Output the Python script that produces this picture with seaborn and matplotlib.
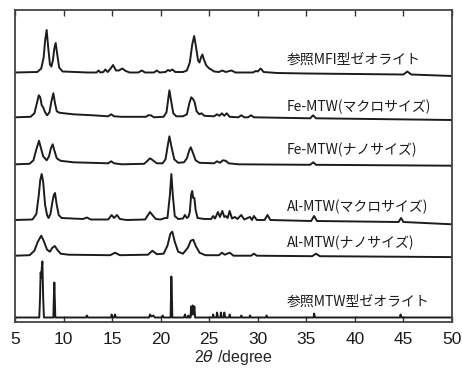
import numpy as np
import pandas as pd
import seaborn as sns
import matplotlib
matplotlib.use("Agg")
import matplotlib.pyplot as plt

# XRD patterns, vertices (2theta, height above own baseline)
mfi_x = [5, 7.3, 7.7, 7.95, 8.1, 8.26, 8.42, 8.6, 8.75, 8.9, 9.05, 9.19, 9.35, 9.55, 9.9, 12.5, 13.4, 13.6, 13.8,
         14.1, 14.3, 14.55, 14.85, 15.1, 15.4, 15.7, 16.05, 16.4, 16.8, 17.7, 18.05, 18.4, 19.3, 19.6, 19.9, 20.5,
         20.75, 20.95, 21.2, 21.5, 22.3, 22.7, 23.0, 23.25, 23.45, 23.65, 23.85, 24.0, 24.15, 24.3, 24.45, 24.7,
         25.0, 25.2, 25.5, 26.0, 26.35, 26.7, 27.3, 27.7, 29.5, 29.8, 30.0, 30.3, 30.6, 32, 35, 40, 45.0, 45.4,
         45.8, 50]
mfi_y = [0, 0.5, 4, 15, 32, 42.5, 25, 8, 6, 12, 24, 29.5, 18, 5, 1, 0, 0, 2, 0,
         0.5, 3, 0.5, 4, 7.5, 2, 2, 4, 1.5, 0, 0, 2, 0, 0, 2, 0, 0.5,
         2.5, 1.5, 3, 0.5, 0.5, 2, 10, 28, 36.5, 25, 12, 10, 15, 18, 13, 7,
         4, 3, 1, 0.5, 2, 0.5, 2, 0, 0, 1.5, 1, 4, 0.5, -0.5, -1, -1.5, -2, 1,
         -2, -3.5]

fe_macro_x = [5, 6.6, 7.0, 7.25, 7.45, 7.6, 7.75, 7.9, 8.1, 8.3, 8.55, 8.75, 8.95, 9.1, 9.3, 9.6, 11, 13, 14.6,
              14.9, 15.2, 16, 18.5, 18.7, 19.0, 19.3, 20.3, 20.6, 20.8, 20.9, 21.05, 21.3, 21.6, 22.3, 22.7,
              22.95, 23.15, 23.35, 23.5, 23.7, 24.0, 24.2, 24.5, 25.5, 25.8, 26.05, 26.3, 26.55, 26.8, 27.1,
              28.0, 28.3, 28.6, 29.0, 29.3, 29.6, 35.4, 35.7, 36.0, 50]
fe_macro_y = [0, 0.5, 4, 14, 22, 20, 12, 10, 5, 2, 5, 16, 24, 15, 6, 4.5, 3, 2, 1,
              3, 1, 0.5, 0.5, 2, 2, 0, 0.5, 5, 20, 27, 18, 4, 1, 1, 3,
              14, 20, 18, 15, 6, 3, 4, 1.5, 1, 3, 1.5, 4, 1.5, 4, 0.5,
              0, 2, 0, 0, 2, 0, -1, 2, -1, -2.7]

fe_nano_x = [5, 6.5, 6.9, 7.2, 7.47, 7.65, 7.9, 8.26, 8.5, 8.7, 8.88, 9.05, 9.3, 9.7, 11, 14.6, 14.9, 15.2, 16,
             18.3, 18.7, 18.9, 19.2, 19.6, 20.2, 20.5, 20.75, 20.9, 21.1, 21.4, 21.8, 22.4, 22.7, 22.95, 23.1,
             23.3, 23.6, 24.0, 25.5, 25.8, 26.1, 26.4, 26.7, 27.0, 28, 35.4, 35.7, 36.0, 50]
fe_nano_y = [0, 0.5, 4, 15, 23.5, 17, 8, 4, 8, 16, 20, 14, 6, 3.5, 2, 1, 3, 1, 0,
             0.5, 4, 6, 4, 1, 1, 5, 20, 28, 18, 5, 1.5, 2, 6, 14, 17,
             12, 4, 1.5, 1, 3, 1.5, 4, 3.5, 1, 0, -0.5, 2, -0.5, -1.4]

al_macro_x = [5, 6.8, 7.2, 7.45, 7.6, 7.75, 7.9, 8.1, 8.3, 8.45, 8.65, 8.85, 9.0, 9.12, 9.3, 9.5, 9.8, 12.0,
              12.4, 12.8, 14.6, 14.95, 15.2, 15.5, 15.8, 16.5, 18.4, 18.7, 18.9, 19.15, 19.5, 20.0, 20.45, 20.7,
              20.95, 21.1, 21.25, 21.45, 21.8, 22.3, 22.5, 22.7, 22.85, 23.0, 23.15, 23.25, 23.35, 23.47, 23.6,
              23.8, 24.5, 25.2, 25.4, 25.6, 25.9, 26.1, 26.35, 26.55, 26.7, 26.9, 27.1, 27.35, 27.65, 27.9, 28.3,
              28.6, 29.2, 29.4, 29.6, 29.9, 30.7, 31.0, 31.3, 35.5, 35.8, 36.1, 44.5, 44.75, 45.0, 50]
al_macro_y = [0, 0.5, 6, 25, 40, 46, 38, 15, 5, 2, 6, 18, 25, 27, 15, 5, 2, 1,
              2.5, 0.5, 0.5, 5, 2, 5, 1, 0, 0.5, 5, 8, 5, 1, 0.5, 2, 2,
              25, 46, 25, 4, 1, 1.5, 5, 2, 3, 8, 26, 29, 22, 22, 10,
              2, 1, 1, 4, 1.5, 8, 3, 9, 3, 4, 2, 9, 1.5, 3, 1, 5,
              0.5, 3, 0, 4, 0, 0, 5, 0, -1, 4, -1, -2, 2, -2, -4.3]

al_nano_x = [5, 6.5, 7.0, 7.35, 7.7, 7.95, 8.3, 8.6, 8.85, 9.1, 9.35, 9.7, 10.5, 14.8, 15.3, 15.8, 18.7, 19.15,
             19.6, 20.3, 20.7, 21.0, 21.2, 21.45, 21.8, 22.3, 22.8, 23.1, 23.36, 23.6, 24.0, 24.6, 26.0, 26.3,
             26.6, 27.1, 27.5, 29.3, 29.6, 29.9, 35.6, 36.0, 36.4, 50]
al_nano_y = [0, 0.5, 5, 14, 20, 15, 6, 4, 8, 9.7, 6, 2, 1, 0.5, 3, 0.5, 1, 5,
             1.5, 2, 10, 22, 24, 14, 4, 2, 8, 15, 16, 10, 3, 0.5, 0.5, 3,
             1, 3, 0, 0, 2, 0, -0.5, 2, -0.5, -1.4]

ref_mtw_x = [5, 7.5, 7.58, 7.64, 7.7, 7.76, 7.82, 7.9, 7.98, 8.95, 9.0, 9.05, 9.1, 9.15, 12.3, 12.4, 12.5, 14.9,
             14.95, 15.05, 15.2, 15.3, 15.4, 18.8, 18.9, 19.05, 19.25, 19.4, 20.1, 20.2, 20.3, 21.02, 21.07, 21.1,
             21.15, 21.2, 22.4, 22.5, 22.6, 22.8, 22.85, 22.95, 23.08, 23.13, 23.2, 23.3, 23.38, 23.47, 23.55,
             25.35, 25.4, 25.5, 25.75, 25.8, 25.9, 26.15, 26.2, 26.3, 26.5, 26.55, 26.65, 27.05, 27.1, 27.2,
             28.25, 28.3, 28.4, 29.15, 29.2, 29.3, 30.85, 30.9, 31.0, 35.75, 35.8, 35.9, 44.65, 44.7, 44.8, 50]
ref_mtw_y = [0, 0, 20, 45, 40, 50, 56, 20, 0, 0, 20, 35, 18, 0, 0, 2, 0, 0,
             3, 0, 0, 3, 0, 0, 3, 1, 2, 0, 0, 2, 0, 0, 25, 41,
             25, 0, 0, 3, 0, 0, 2, 0, 0, 11, 3, 12, 3, 11, 0,
             0, 3, 0, 0, 5, 0, 0, 5, 0, 0, 5, 0, 0, 3, 0,
             0, 2, 0, 0, 2, 0, 0, 2, 0, 0, 4, 0, 0, 3, 0, 0]

labels = ["参照MFI型ゼオライト", "Fe-MTW(マクロサイズ)", "Fe-MTW(ナノサイズ)",
          "Al-MTW(マクロサイズ)", "Al-MTW(ナノサイズ)", "参照MTW型ゼオライト"]
offsets = [249.5, 204.7, 157.7, 102, 66.3, 4.5]
label_y = [262, 215, 172, 115, 79, 20]

traces = [(mfi_x, mfi_y), (fe_macro_x, fe_macro_y), (fe_nano_x, fe_nano_y),
          (al_macro_x, al_macro_y), (al_nano_x, al_nano_y), (ref_mtw_x, ref_mtw_y)]

sns.set_style("ticks")
plt.rcParams['font.family'] = ['Noto Sans CJK JP', 'DejaVu Sans']

fig = plt.figure(figsize=(4.62, 3.70), dpi=100)
ax = fig.add_axes([15 / 462, 48 / 370, 437 / 462, 312 / 370])

for (xs, ys), off, lab, ly in zip(traces, offsets, labels, label_y):
    df = pd.DataFrame({"two_theta": xs, "intensity": np.array(ys) + off})
    sns.lineplot(data=df, x="two_theta", y="intensity", ax=ax, sort=False, estimator=None,
                 color="#1c1c1c", lw=1.4)
    ax.text(33.0, ly, lab, fontsize=10, ha="left", va="center", color="#1c1c1c")

ax.set_xlim(5, 50)
ax.set_ylim(0, 312)
ax.set_xticks(range(5, 51, 5))
ax.set_yticks([])
ax.tick_params(axis="x", direction="in", length=4, width=1, top=True, bottom=True,
               colors="#333333", labelcolor="#1c1c1c", pad=7)
for lbl in ax.get_xticklabels():
    lbl.set_family(['Liberation Sans', 'DejaVu Sans'])
    lbl.set_fontsize(12.5)
ax.set_xlabel(r"2$\theta$ /degree", fontsize=11.5, family=['Liberation Sans', 'DejaVu Sans'], labelpad=1)
ax.set_ylabel("")
for s in ax.spines.values():
    s.set_visible(True)
    s.set_linewidth(1.3)
    s.set_color("#444444")

fig.savefig("out.png", dpi=100)
